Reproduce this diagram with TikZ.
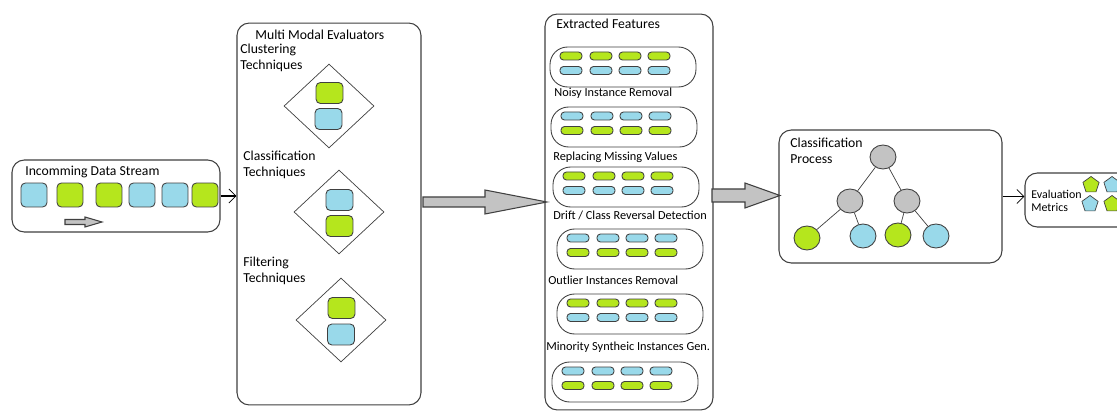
\documentclass[tikz,border=0pt]{standalone}
\usepackage{fontspec}
\setmainfont{Carlito}
\definecolor{cubeblue}{RGB}{153, 217, 234}
\definecolor{cubegreen}{RGB}{181, 230, 29}
\definecolor{nodegray}{RGB}{195, 195, 195}
\definecolor{edgegray}{RGB}{64, 64, 64}
\usetikzlibrary{shapes.geometric, arrows.meta, calc}

\tikzset{
  blockbox/.style={draw=edgegray, line width=0.6pt, rounded corners=7pt, inner sep=0},
  cube/.style={draw=edgegray, line width=0.5pt, rounded corners=2.5pt, minimum width=0.52cm, minimum height=0.48cm, inner sep=0},
  dcube/.style={cube, minimum width=0.54cm, minimum height=0.42cm},
  pill/.style={draw=edgegray, line width=0.5pt, rounded corners=2pt, minimum width=0.44cm, minimum height=0.16cm, inner sep=0},
  featbox/.style={draw=edgegray, line width=0.5pt, rounded corners=10pt, minimum width=2.92cm, minimum height=0.8cm, inner sep=0},
  gem/.style={diamond, draw=edgegray, line width=0.4pt, minimum width=1.8cm, minimum height=1.68cm, inner sep=0},
  leaf/.style={ellipse, draw=edgegray, line width=0.5pt, minimum width=0.52cm, minimum height=0.48cm, inner sep=0},
  gon/.style={regular polygon, regular polygon sides=5, draw=edgegray, line width=0.4pt, minimum size=0.34cm, inner sep=0},
  txt/.style={font=\fontsize{7.8}{9}\selectfont, inner sep=0, anchor=west, align=left},
  smalltxt/.style={font=\fontsize{7}{8.5}\selectfont, inner sep=0, anchor=west},
  bigarrow/.style={draw=edgegray, fill=nodegray, line width=0.6pt},
  link/.style={line width=1.1pt, -{Straight Barb[length=4pt, width=8pt, line width=0.4pt]}},
  branch/.style={draw=edgegray, line width=0.4pt}
}

\begin{document}
\begin{tikzpicture}[x=0.02cm, y=-0.02cm]
  \clip (0,0) rectangle (1117,412);
  \fill[white] (0,0) rectangle (1117,412);

  % Incoming stream
  \node[blockbox, minimum width=4.16cm, minimum height=1.44cm] (stream) at (116,196) {};
  \node[txt] (streamlbl) at (25,172) {Incomming Data Stream};
  \foreach \x/\c [count=\i] in {34/cubeblue, 70/cubegreen, 109/cubegreen, 142/cubeblue, 175/cubeblue, 205/cubegreen}
    \node[cube, fill=\c] (s\i) at (\x,195) {};
  \draw[bigarrow] (65,219.5) -- (85,219.5) -- (85,217) -- (102,222) -- (85,227) -- (85,224.5) -- (65,224.5) -- cycle;

  % Evaluators
  \node[blockbox, minimum width=3.68cm, minimum height=7.64cm] (evals) at (329,214) {};
  \node[txt] (evalslbl) at (255,35) {Multi Modal Evaluators};
  \node[txt] (cluslbl) at (240,58) {Clustering\\Techniques};
  \node[txt] (claslbl) at (243,165) {Classification\\Techniques};
  \node[txt] (filtlbl) at (243,271) {Filtering\\Techniques};

  \node[gem] (clus) at (329,106) {};
  \node[dcube, fill=cubegreen] (clus1) at (329.5,93) {};
  \node[dcube, fill=cubeblue] (clus2) at (328.5,119) {};

  \node[gem] (clas) at (339,212) {};
  \node[dcube, fill=cubeblue] (clas1) at (339.5,200) {};
  \node[dcube, fill=cubegreen] (clas2) at (339.5,226) {};

  \node[gem] (filt) at (341,320) {};
  \node[dcube, fill=cubegreen] (filt1) at (341.5,308) {};
  \node[dcube, fill=cubeblue] (filt2) at (341,334.5) {};

  \draw[link] (stream.east) -- (stream.east -| evals.west);

  % Extracted features
  \node[blockbox, minimum width=3.36cm, minimum height=7.92cm] (feats) at (629,212) {};
  \node[txt] (featslbl) at (556,24) {Extracted Features};
  \foreach \cx/\y/\ca/\cb [count=\i] in {623/67/cubegreen/cubeblue, 624/127/cubeblue/cubegreen, 626/187/cubegreen/cubeblue,
      630/249/cubeblue/cubegreen, 630/314/cubegreen/cubeblue, 625/382/cubeblue/cubegreen} {
    \node[featbox] (f\i) at (\cx,\y) {};
    \foreach \dx [count=\j] in {-52, -22, 7, 36} {
      \node[pill, fill=\ca] (f\i a\j) at (\cx+\dx,\y-11) {};
      \node[pill, fill=\cb] (f\i b\j) at (\cx+\dx,\y+3.5) {};
    }
  }
  \node[smalltxt] (noisy) at (554,93) {Noisy Instance Removal};
  \node[smalltxt] (missing) at (553,157) {Replacing Missing Values};
  \node[smalltxt] (drift) at (553,215) {Drift / Class Reversal Detection};
  \node[smalltxt] (outlier) at (548,280) {Outlier Instances Removal};
  \node[smalltxt] (minority) at (546,347) {Minority Syntheic Instances Gen.};

  \coordinate (a1s) at (423,202);
  \coordinate (a1e) at (547,202);
  \draw[bigarrow] ($(a1s)+(0,-5)$) -- ($(a1e)+(-62,-5)$) -- ($(a1e)+(-62,-12)$) -- (a1e)
    -- ($(a1e)+(-62,12)$) -- ($(a1e)+(-62,5)$) -- ($(a1s)+(0,5)$) -- cycle;

  % Classification
  \node[blockbox, minimum width=4.46cm, minimum height=2.66cm] (clsproc) at (890.5,196.5) {};
  \node[txt] (clslbl) at (790,151) {Classification\\Process};
  \node[leaf, fill=nodegray] (root) at (883,157) {};
  \node[leaf, fill=nodegray] (n1) at (850,201) {};
  \node[leaf, fill=nodegray] (n2) at (907,201) {};
  \node[leaf, fill=cubegreen] (l1) at (807,238) {};
  \node[leaf, fill=cubeblue] (l2) at (863,236) {};
  \node[leaf, fill=cubegreen] (l3) at (898,235) {};
  \node[leaf, fill=cubeblue] (l4) at (936,236) {};
  \draw[branch] (root) -- (n1);
  \draw[branch] (root) -- (n2);
  \draw[branch] (n1) -- (l1);
  \draw[branch] (n1) -- (l2);
  \draw[branch] (n2) -- (l3);
  \draw[branch] (n2) -- (l4);

  \coordinate (a2s) at (712,195.5);
  \coordinate (a2e) at (780,195.5);
  \draw[bigarrow] ($(a2s)+(0,-6.5)$) -- ($(a2e)+(-35,-6.5)$) -- ($(a2e)+(-35,-12.5)$) -- (a2e)
    -- ($(a2e)+(-35,12.5)$) -- ($(a2e)+(-35,6.5)$) -- ($(a2s)+(0,6.5)$) -- cycle;

  % Evaluation
  \node[blockbox, minimum width=2.4cm, minimum height=1.08cm] (evalm) at (1085,200) {};
  \node[txt, font=\fontsize{6.8}{7.2}\selectfont] (evalmlbl) at (1031,201) {Evaluation\\Metrics};
  \node[gon, fill=cubegreen] (g1) at (1091,185) {};
  \node[gon, fill=cubeblue] (g2) at (1112,185) {};
  \node[gon, fill=cubeblue] (g3) at (1090,204) {};
  \node[gon, fill=cubegreen] (g4) at (1112,204) {};

  \draw[link] (clsproc.east) -- (clsproc.east -| evalm.west);
\end{tikzpicture}
\end{document}
